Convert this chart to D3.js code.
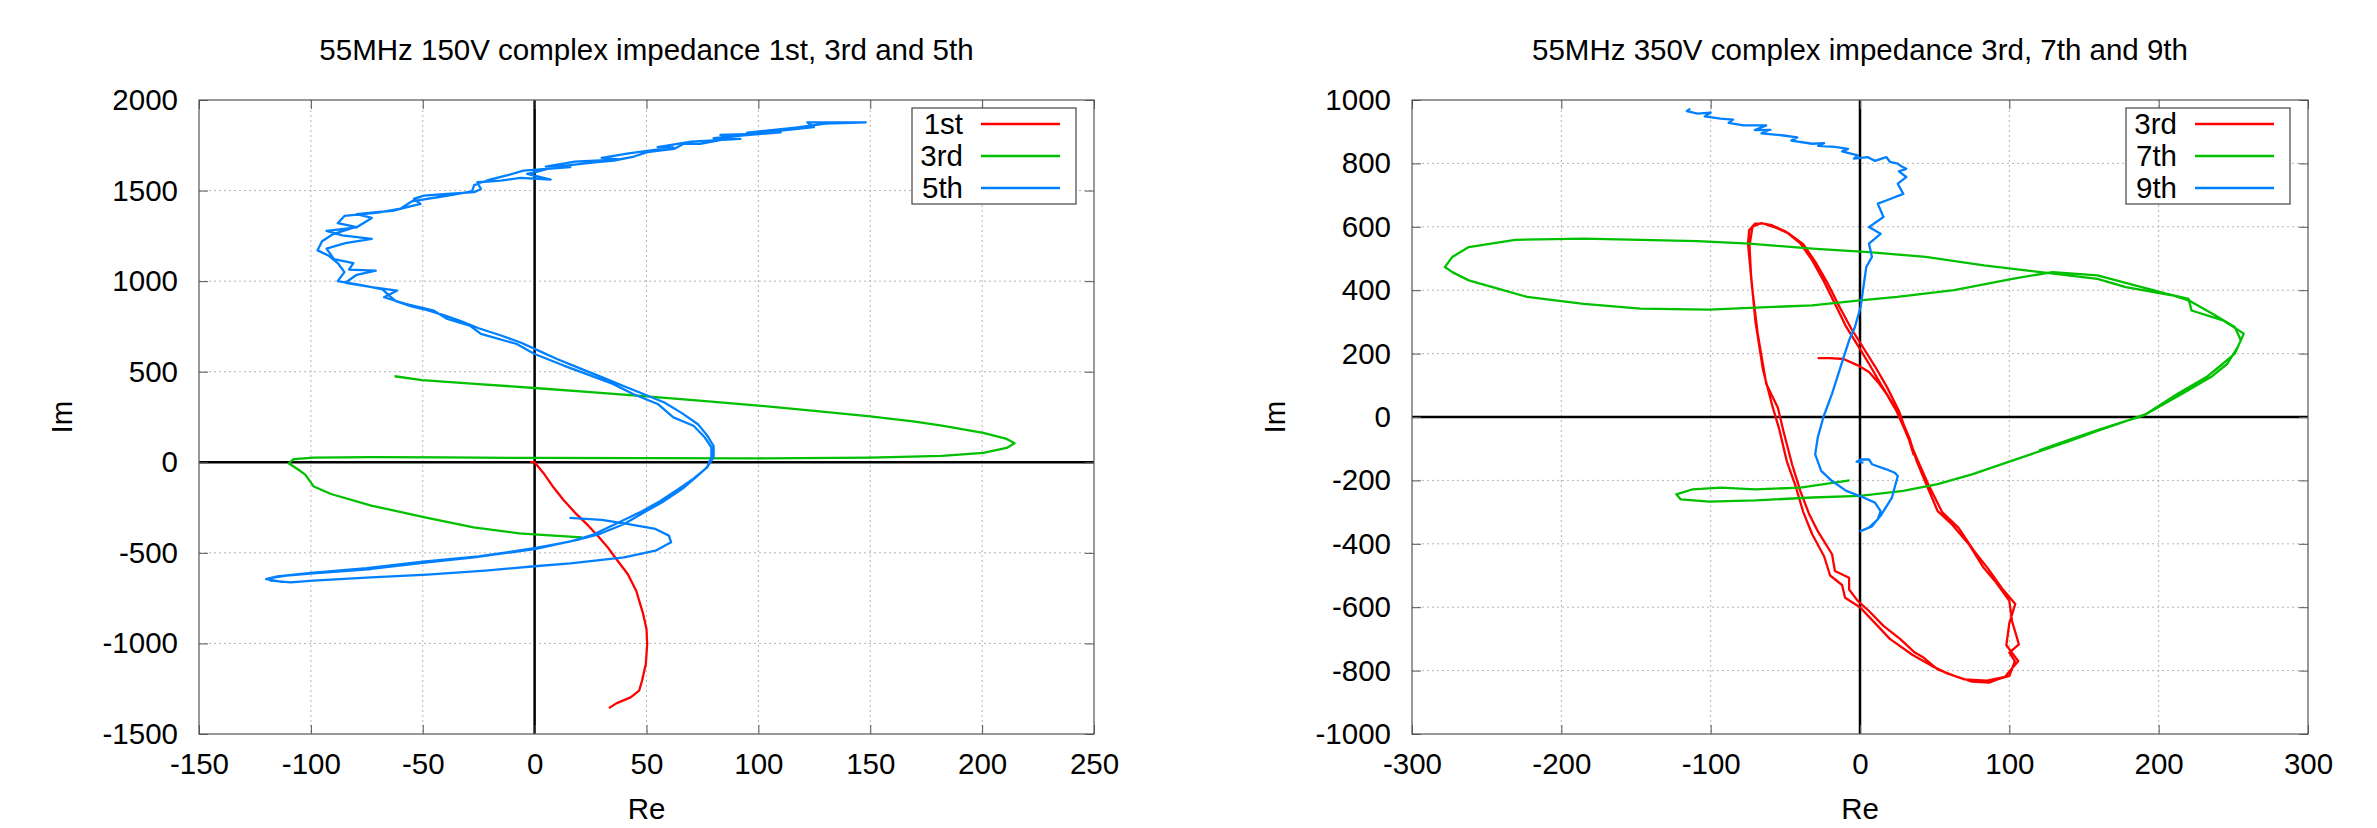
<!DOCTYPE html>
<html>
<head>
<meta charset="utf-8">
<script src="https://cdn.jsdelivr.net/npm/d3@7"></script>
<style>
  html, body { margin: 0; padding: 0; background: #fff; }
  svg { display: block; }
  text { font-family: "Liberation Sans", Arial, sans-serif; fill: #000; }
</style>
</head>
<body>
<svg id="chart" width="2377" height="828"></svg>
<script>
// ---------------- DATA ----------------
const leftTitle = "55MHz 150V complex impedance 1st, 3rd and 5th";
const rightTitle = "55MHz 350V complex impedance 3rd, 7th and 9th";
const leftNames = ["1st", "3rd", "5th"];
const rightNames = ["3rd", "7th", "9th"];
const seriesColors = ["#ff0000", "#00c000", "#0080ff"];

const leftXTicks = [-150, -100, -50, 0, 50, 100, 150, 200, 250];
const leftYTicks = [-1500, -1000, -500, 0, 500, 1000, 1500, 2000];
const rightXTicks = [-300, -200, -100, 0, 100, 200, 300];
const rightYTicks = [-1000, -800, -600, -400, -200, 0, 200, 400, 600, 800, 1000];

// 150V, 1st harmonic [Re, Im]
const left1st = [[-2,2],[0,0],[4,-60],[8.4,-138],[13,-210],[18.6,-285],[24,-350],[28.8,-414],[33,-475],[36.5,-534],[41.6,-617],[45.4,-709],[48.5,-837],[50,-920],[50.3,-1003],[49.7,-1114],[48,-1206],[46.7,-1261],[42.9,-1298],[36.5,-1331],[33.2,-1357]];

// 150V, 3rd harmonic
const left3rd = [[-62.6,475],[-50.3,454],[-25,432],[0,410],[25,387],[50,364],[75,339],[100,313],[125,284],[150,254],[170,225],[182,202],[200.5,162],[211,129],[214.5,105],[211,79],[200.5,52],[182,35],[150,26],[100,22],[50,23],[0,24],[-40,27],[-73,29],[-98.7,26],[-107.7,17],[-110,-5.5],[-106,-37],[-102.5,-68],[-98.7,-134],[-91,-175],[-73,-239],[-49,-304],[-27.3,-359],[-6.9,-392],[8.4,-405],[21.2,-414]];

// 150V, 5th harmonic
const left5th = [[15.6,-307],[30,-318],[40,-337],[54,-368],[60,-405],[61,-442],[54,-488],[40,-525],[16,-558],[0,-574],[-22,-598],[-48,-620],[-73,-635],[-99,-653],[-109,-663],[-118,-653],[-119,-641],[-111,-626],[-99,-613],[-73,-589],[-48,-552],[-27,-525],[0,-479],[19,-429],[29,-396],[40,-341],[49,-276],[57,-221],[66,-147],[72,-83],[77,-28],[79,28],[79,83],[76,138],[71,202],[62,248],[55,322],[44,377],[35,433],[23,488],[13,534],[0,598],[-8,653],[-24,709],[-29,755],[-39,791],[-45,837],[-57.7,874],[-67.3,911],[-61.4,948],[-72,965],[-84.6,991],[-79.5,1035],[-71,1058],[-83,1064],[-81,1099],[-89.7,1122],[-93,1180],[-84.6,1210],[-72.8,1233],[-86,1253],[-93,1277],[-79.5,1297],[-72.8,1349],[-79.5,1370],[-62.6,1390],[-57,1408],[-51,1426],[-54,1454],[-49.5,1472],[-39,1482],[-27,1491],[-24,1509],[-25.6,1546],[-15.2,1555],[-6.3,1570],[7.2,1561],[-3.3,1592],[0,1601],[8.6,1629],[20.6,1647],[28,1657],[35.5,1666],[44.4,1688],[50.4,1712],[62.3,1730],[66.7,1758],[74,1758],[87.6,1789],[83,1807],[97.3,1813],[110,1831],[124.8,1850],[121.9,1877],[148,1877],[130,1870],[115,1845],[125,1858],[95,1820],[110,1822],[80,1790],[92,1785],[70,1770],[55,1740],[62,1738],[42,1705],[30,1680],[38,1672],[18,1660],[5,1632],[16,1630],[-5,1610],[-12,1585],[-20,1560],[-27,1530],[-28,1495],[-40,1470],[-55,1440],[-60,1400],[-70,1378],[-85,1360],[-88,1320],[-80,1300],[-90,1260],[-95,1220],[-97,1170],[-92,1140],[-88,1100],[-85,1050],[-88,1000],[-78,980],[-68,955],[-65,920],[-62,890],[-55,860],[-48,840],[-40,810],[-33,780],[-25,740],[-15,700],[-6,660],[2,615],[10,570],[20,520],[30,470],[40,420],[50,370],[58,330],[66,270],[73,210],[77,150],[80,90],[80,30],[77,-30],[71,-90],[64,-150],[56,-215],[48,-270],[38,-330],[26,-400],[15,-440],[0,-474],[-25,-520],[-50,-548],[-75,-585],[-100,-610],[-115,-630],[-120,-645],[-113,-660]];

// 350V, 3rd harmonic
const right3rd = [[-28.3,186],[-20,186],[-11,183],[-1.5,163],[6,142],[12,110],[17.6,74],[23,30],[28,-10],[33,-65],[38,-140],[44.4,-212],[52,-297],[61.6,-339],[73,-402],[82.7,-475],[90.3,-517],[100,-580],[101.8,-644],[106.4,-717],[100,-743],[103.7,-770],[100,-817],[92,-828],[86.5,-838],[75,-835],[63.5,-817],[52,-796],[42.5,-759],[36.7,-743],[27,-701],[15.7,-659],[6,-612],[-1.5,-580],[-7.3,-544],[-7.3,-507],[-16.8,-486],[-18.7,-433],[-28.3,-360],[-34,-307],[-40,-233],[-45.5,-149],[-51.3,-44],[-55,29],[-62.8,105],[-68.5,263],[-72.3,410],[-75,547],[-74.2,589],[-70.4,610],[-64.7,610],[-59,605],[-49.4,584],[-39.8,547],[-32,494],[-24.5,431],[-16.8,357],[-9.2,284],[-1.5,226],[6,168],[13.8,105],[23.3,31],[30,-40],[38,-130],[46,-215],[55,-300],[66,-350],[76,-420],[86,-480],[95,-540],[104,-590],[100,-650],[98,-720],[106,-770],[97,-820],[85,-832],[70,-828],[58,-808],[48,-785],[35,-750],[20,-700],[8,-640],[0,-600],[-10,-570],[-12,-530],[-20,-500],[-24,-440],[-32,-370],[-38,-300],[-43,-220],[-49,-140],[-54,-40],[-59,40],[-65,150],[-70,300],[-73,450],[-74,540],[-72,600],[-66,612],[-58,600],[-48,580],[-38,545],[-30,490],[-22,425],[-14,350],[-6,280],[2,220],[10,160],[18,95],[26,20],[32,-60],[36,-120]];

// 350V, 7th harmonic
const right7th = [[-7,-200],[-24,-212],[-40,-223],[-70,-228],[-93,-223],[-112,-228],[-123,-244],[-120,-260],[-101,-267],[-70,-263],[-32,-254],[0,-249],[29,-233],[52,-212],[75,-181],[98,-144],[121,-107],[140,-76],[159,-44],[178,-13],[190,5],[213,74],[232,126],[243,168],[251,200],[255,242],[251,284],[236,326],[220,368],[209,384],[178,410],[159,436],[121,457],[83,478],[44,505],[6,520],[-32,531],[-74,547],[-109,555],[-185,563],[-231,559],[-262,536],[-273,505],[-278,473],[-273,457],[-262,431],[-239,400],[-223,379],[-185,357],[-147,342],[-101,339],[-70,345],[-32,352],[0,368],[25,379],[63,400],[102,436],[129,457],[159,447],[205,389],[220,373],[222,336],[243,305],[257,263],[253,221],[246,168],[235,126],[216,74],[192,10],[180,-10],[160,-40],[140,-72],[120,-105]];

// 350V, 9th harmonic
const right9th = [[-113.7,973],[-116,965],[-108.7,957],[-100,960],[-104,948],[-93.4,941],[-85,938],[-88,928],[-78,920],[-62.8,920],[-70.4,905],[-60,906],[-66,895],[-51.3,888],[-42,882],[-46,872],[-32,862],[-24,864],[-28,855],[-16.8,852],[-8,846],[-12,838],[-1.5,825],[-4,815],[5,820],[10,808],[17.6,820],[20,805],[25.3,799],[28,790],[31,783],[26,775],[31,757],[25.3,736],[29,704],[17.6,683],[11.9,673],[15.7,631],[6,599],[13.8,578],[6,547],[8,505],[4.2,473],[2.3,410],[0.4,347],[-3.4,284],[-7.3,242],[-13,158],[-18.7,74],[-24.5,0],[-28.3,-65],[-30,-118],[-26,-170],[-18.7,-202],[-9.2,-233],[2.3,-254],[10,-270],[13.8,-297],[11.9,-323],[6,-349],[0.4,-360],[8,-345],[14,-310],[21.4,-254],[25.3,-186],[23.3,-176],[17.6,-165],[8,-149],[6,-134],[0.4,-134],[-2.3,-141],[2.3,-144]];

const leftSeries = [left1st, left3rd, left5th];
const rightSeries = [right3rd, right7th, right9th];

// ---------------- DRAWING ----------------
const svg = d3.select("#chart");
const FONT = 29.5;

function drawPanel(cfg) {
  const { left, right, top, bottom, xDomain, yDomain, xTicks, yTicks, title, names, series } = cfg;
  const x = d3.scaleLinear().domain(xDomain).range([left, right]);
  const y = d3.scaleLinear().domain(yDomain).range([bottom, top]);
  const g = svg.append("g");

  // grid
  g.append("g").selectAll("line").data(xTicks.filter(t => t !== xDomain[0] && t !== xDomain[1] && t !== 0))
    .join("line").attr("x1", d => x(d)).attr("x2", d => x(d)).attr("y1", top).attr("y2", bottom)
    .attr("stroke", "#b4b4b4").attr("stroke-width", 1).attr("stroke-dasharray", "2,3");
  g.append("g").selectAll("line").data(yTicks.filter(t => t !== yDomain[0] && t !== yDomain[1] && t !== 0))
    .join("line").attr("y1", d => y(d)).attr("y2", d => y(d)).attr("x1", left).attr("x2", right)
    .attr("stroke", "#b4b4b4").attr("stroke-width", 1).attr("stroke-dasharray", "2,3");

  // zero axes
  g.append("line").attr("x1", x(0)).attr("x2", x(0)).attr("y1", top).attr("y2", bottom)
    .attr("stroke", "#000").attr("stroke-width", 2.5);
  g.append("line").attr("y1", y(0)).attr("y2", y(0)).attr("x1", left).attr("x2", right)
    .attr("stroke", "#000").attr("stroke-width", 2.5);

  // data
  const line = d3.line().x(d => x(d[0])).y(d => y(d[1]));
  series.forEach((s, i) => {
    g.append("path").datum(s).attr("d", line).attr("fill", "none")
      .attr("stroke", seriesColors[i]).attr("stroke-width", 2.3).attr("stroke-linejoin", "round");
  });

  // axes (ticks inward, mirrored)
  const fmt = d => String(d);
  const ax = (axis, tx, ty, labels) => {
    const a = g.append("g").attr("transform", `translate(${tx},${ty})`).call(axis);
    a.select(".domain").remove();
    a.selectAll(".tick line").attr("stroke", "#555").attr("stroke-width", 1);
    if (!labels) a.selectAll("text").remove();
    else a.selectAll("text").attr("font-size", FONT).attr("font-family", '"Liberation Sans", Arial, sans-serif').attr("fill", "#000");
    return a;
  };
  ax(d3.axisBottom(x).tickValues(xTicks).tickFormat(fmt).tickSizeInner(-9).tickSizeOuter(0).tickPadding(19), 0, bottom, true);
  ax(d3.axisTop(x).tickValues(xTicks).tickSizeInner(-9).tickSizeOuter(0), 0, top, false);
  ax(d3.axisLeft(y).tickValues(yTicks).tickFormat(fmt).tickSizeInner(-9).tickSizeOuter(0).tickPadding(21), left, 0, true);
  ax(d3.axisRight(y).tickValues(yTicks).tickSizeInner(-9).tickSizeOuter(0), right, 0, false);

  // border
  g.append("rect").attr("x", left).attr("y", top).attr("width", right - left).attr("height", bottom - top)
    .attr("fill", "none").attr("stroke", "#555").attr("stroke-width", 1.2);

  // title and axis labels
  const cx = (left + right) / 2, cy = (top + bottom) / 2;
  g.append("text").attr("x", cx).attr("y", 60).attr("text-anchor", "middle").attr("font-size", FONT).text(title);
  g.append("text").attr("x", cx).attr("y", 819).attr("text-anchor", "middle").attr("font-size", FONT).text("Re");
  g.append("text").attr("transform", `translate(${left - 127},${cy}) rotate(-90)`)
    .attr("text-anchor", "middle").attr("font-size", FONT).text("Im");

  // legend
  const lg = g.append("g");
  lg.append("rect").attr("x", right - 182).attr("y", top + 8).attr("width", 164).attr("height", 96)
    .attr("fill", "#fff").attr("stroke", "#444").attr("stroke-width", 1.2);
  names.forEach((n, i) => {
    const ry = top + 24 + i * 32;
    lg.append("text").attr("x", right - 131).attr("y", ry + 10).attr("text-anchor", "end").attr("font-size", FONT).text(n);
    lg.append("line").attr("x1", right - 113).attr("x2", right - 34).attr("y1", ry).attr("y2", ry)
      .attr("stroke", seriesColors[i]).attr("stroke-width", 2.5);
  });
}

drawPanel({ left: 199, right: 1094, top: 100, bottom: 734, xDomain: [-150, 250], yDomain: [-1500, 2000],
  xTicks: leftXTicks, yTicks: leftYTicks, title: leftTitle, names: leftNames, series: leftSeries });
drawPanel({ left: 1412, right: 2308, top: 100, bottom: 734, xDomain: [-300, 300], yDomain: [-1000, 1000],
  xTicks: rightXTicks, yTicks: rightYTicks, title: rightTitle, names: rightNames, series: rightSeries });
</script>
</body>
</html>
